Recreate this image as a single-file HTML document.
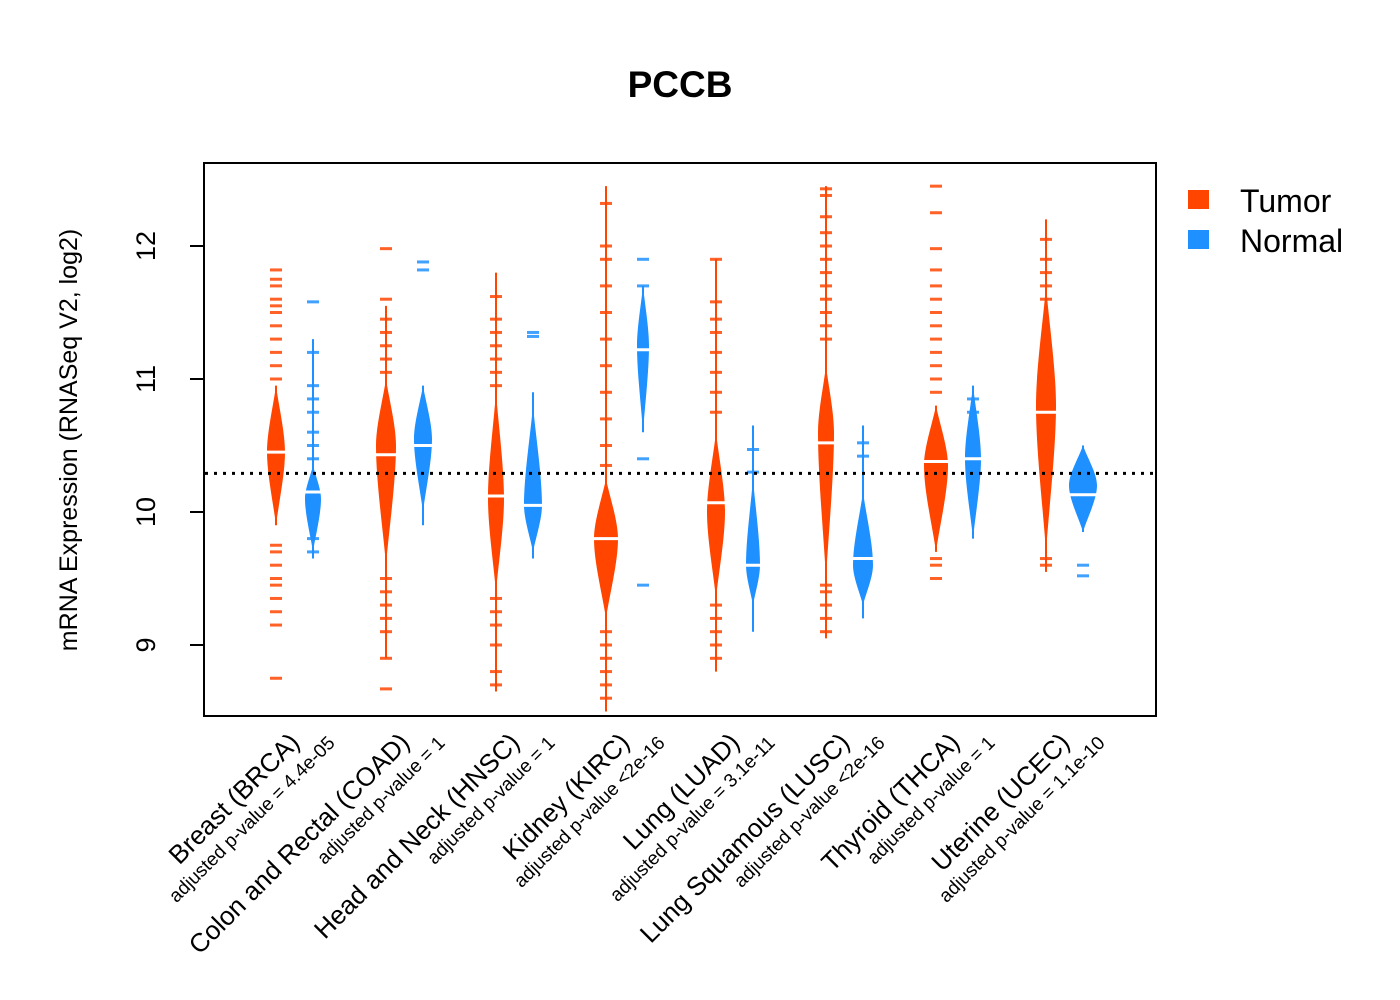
<!DOCTYPE html>
<html><head><meta charset="utf-8"><style>
body{margin:0;background:#fff}
svg{display:block;font-family:"Liberation Sans",Arial,sans-serif}
</style></head><body>
<svg id="chart" width="1400" height="1000" viewBox="0 0 1400 1000">
<text x="680" y="97" text-anchor="middle" font-size="37" font-weight="bold">PCCB</text>
<rect x="204" y="163" width="952" height="553" fill="none" stroke="#000" stroke-width="2"/>
<g id="beans"></g>
<g id="yaxis"></g>
<g id="xlabels"></g>
<text transform="translate(77,440) rotate(-90)" text-anchor="middle" font-size="25">mRNA Expression (RNASeq V2, log2)</text>
<g>
<rect x="1188" y="190" width="21" height="19" fill="#FF4500"/>
<text x="1240" y="212" font-size="32">Tumor</text>
<rect x="1188" y="230" width="21" height="19" fill="#1E90FF"/>
<text x="1240" y="252" font-size="32">Normal</text>
</g>
</svg>
<script>
const categories=["Breast (BRCA)","Colon and Rectal (COAD)","Head and Neck (HNSC)","Kidney (KIRC)","Lung (LUAD)","Lung Squamous (LUSC)","Thyroid (THCA)","Uterine (UCEC)"];
const pvalues=["adjusted p-value = 4.4e-05","adjusted p-value = 1","adjusted p-value = 1","adjusted p-value <2e-16","adjusted p-value = 3.1e-11","adjusted p-value <2e-16","adjusted p-value = 1","adjusted p-value = 1.1e-10"];
const yTicks=[9,10,11,12];
const refLine=10.29;
// tumor series
const tumorMedian=[10.45,10.43,10.12,9.8,10.07,10.52,10.38,10.75];
const tumorTop=[10.95,11.0,10.9,10.25,10.6,11.1,10.8,11.7];
const tumorPeak=[10.45,10.5,10.1,9.8,10.0,10.6,10.35,10.8];
const tumorBottom=[9.9,9.6,9.4,9.2,9.35,9.5,9.7,9.7];
const tumorWidth=[9,10,8,12,9,8,12,10];
const tumorLineMax=[10.95,11.55,11.8,12.45,11.9,12.45,10.8,12.2];
const tumorLineMin=[9.9,8.9,8.65,8.5,8.8,9.05,9.7,9.55];
const tumorPoints=[
 [11.82,11.75,11.7,11.6,11.55,11.5,11.4,11.3,11.2,11.1,11.0,9.75,9.7,9.6,9.5,9.45,9.35,9.25,9.15,8.75],
 [11.98,11.6,11.45,11.35,11.25,11.15,11.05,9.5,9.4,9.3,9.2,9.1,8.9,8.67],
 [11.62,11.45,11.35,11.25,11.15,11.05,10.95,9.35,9.25,9.15,9.0,8.8,8.7],
 [12.32,12.0,11.9,11.7,11.5,11.3,11.1,10.9,10.7,10.5,10.35,9.1,9.0,8.9,8.8,8.7,8.6],
 [11.9,11.58,11.45,11.35,11.2,11.05,10.9,10.75,9.3,9.2,9.1,9.0,8.9],
 [12.43,12.38,12.22,12.1,12.0,11.9,11.8,11.7,11.6,11.5,11.4,11.3,9.45,9.4,9.3,9.2,9.1],
 [12.45,12.25,11.98,11.82,11.7,11.6,11.5,11.4,11.3,11.2,11.1,11.0,10.9,9.65,9.6,9.5],
 [12.05,11.9,11.8,11.7,11.6,9.65,9.6]];
// normal series
const normalMedian=[10.15,10.5,10.05,11.22,9.6,9.65,10.4,10.13];
const normalTop=[10.35,10.95,10.8,11.7,10.25,10.15,10.95,10.5];
const normalPeak=[10.1,10.55,10.05,11.25,9.6,9.6,10.4,10.2];
const normalBottom=[9.7,10.0,9.7,10.6,9.3,9.3,9.8,9.85];
const normalWidth=[8,9,9,6,7,10,8,14];
const normalLineMax=[11.3,10.95,10.9,11.7,10.65,10.65,10.95,10.5];
const normalLineMin=[9.65,9.9,9.65,10.6,9.1,9.2,9.8,9.85];
const normalPoints=[
 [11.58,11.2,10.95,10.85,10.75,10.6,10.5,10.4,9.8,9.7],
 [11.82,11.88],
 [11.32,11.35],
 [11.9,11.7,10.4,9.45],
 [10.47,10.3],
 [10.52,10.42],
 [10.85,10.75],
 [9.6,9.52]];

const NS="http://www.w3.org/2000/svg";
const X0=276,DX=110,OFF=37;
function yS(v){return 512-(v-10)*133;}
function xT(i){return X0+i*DX;}
function xN(i){return X0+i*DX+OFF;}
function mk(tag,attrs,parent){const e=document.createElementNS(NS,tag);for(const k in attrs)e.setAttribute(k,attrs[k]);parent.appendChild(e);return e;}
const beans=document.getElementById('beans');

function drawBean(cx,top,peak,bot,w,med,lmax,lmin,pts,color,kind,i){
 const g=mk('g',{},beans);
 
 
 const l=mk('line',{x1:cx,x2:cx,y1:yS(lmax),y2:yS(lmin),stroke:color,'stroke-width':2},g);
 
 
 const yt=yS(top),yp=yS(peak),yb=yS(bot);
 const d=`M${cx},${yt} C${cx+w*0.3},${yt+(yp-yt)*0.3} ${cx+w},${yp-(yp-yt)*0.3} ${cx+w},${yp} C${cx+w},${yp+(yb-yp)*0.3} ${cx+w*0.3},${yb-(yb-yp)*0.3} ${cx},${yb} C${cx-w*0.3},${yb-(yb-yp)*0.3} ${cx-w},${yp+(yb-yp)*0.3} ${cx-w},${yp} C${cx-w},${yp-(yp-yt)*0.3} ${cx-w*0.3},${yt+(yp-yt)*0.3} ${cx},${yt}Z`;
 const p=mk('path',{d:d,fill:color},g);
 
 
 pts.forEach(v=>{
  const t=mk('rect',{x:cx-6,y:yS(v)-1.5,width:12,height:3,fill:color,opacity:0.85},g);
  
  
 });
 const m=mk('line',{x1:cx-w-3,x2:cx+w+3,y1:yS(med),y2:yS(med),stroke:'#fff','stroke-width':3},g);
 
 
}
categories.forEach((c,i)=>{
 drawBean(xT(i),tumorTop[i],tumorPeak[i],tumorBottom[i],tumorWidth[i],tumorMedian[i],tumorLineMax[i],tumorLineMin[i],tumorPoints[i],'#FF4500','tumor',i);
 drawBean(xN(i),normalTop[i],normalPeak[i],normalBottom[i],normalWidth[i],normalMedian[i],normalLineMax[i],normalLineMin[i],normalPoints[i],'#1E90FF','normal',i);
});
const rl=mk('line',{x1:205,x2:1155,y1:yS(refLine),y2:yS(refLine),stroke:'#000','stroke-width':3,'stroke-dasharray':'3,6'},beans);



const ya=document.getElementById('yaxis');
yTicks.forEach(t=>{
 const tk=mk('line',{x1:190,x2:204,y1:yS(t),y2:yS(t),stroke:'#000','stroke-width':2},ya);
 
 
 const tx=mk('text',{transform:`translate(155,${yS(t)}) rotate(-90)`,'text-anchor':'middle','font-size':27},ya);
 tx.textContent=t;
 
 
});
const xl=document.getElementById('xlabels');
categories.forEach((c,i)=>{
 const cx=xT(i)+18;
 const t=mk('text',{transform:`translate(${cx+7},${744}) rotate(-45)`,'text-anchor':'end','font-size':26},xl);
 t.textContent=c;
 
 
 const p=mk('text',{transform:`translate(${cx+42},${744}) rotate(-45)`,'text-anchor':'end','font-size':19},xl);
 p.textContent=pvalues[i];
 
 
});
</script>
</body></html>
